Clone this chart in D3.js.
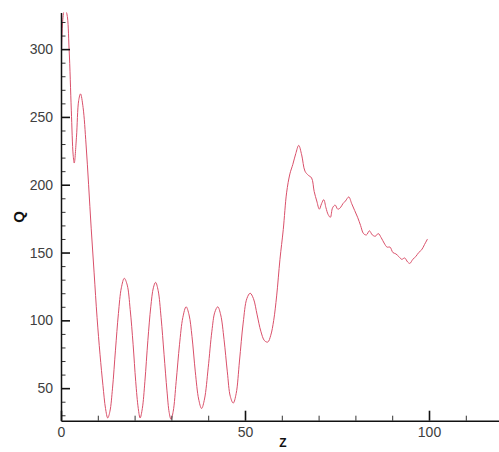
<!DOCTYPE html>
<html>
<head>
<meta charset="utf-8">
<script src="https://cdn.jsdelivr.net/npm/d3@7/dist/d3.min.js"></script>
<style>
  html, body { margin: 0; padding: 0; background: #fff; }
  svg { display: block; }
  .tick text { font-family: "Liberation Sans", Arial, sans-serif; font-size: 14px; fill: #404040; }
</style>
</head>
<body>
<svg id="chart" width="499" height="452"></svg>
<script>
// Z positions along the profile
const zValues = [
  0, 0.5, 1, 1.6, 2.2, 2.8, 3.3, 3.6, 4.2, 4.8, 5.3, 6, 6.8, 7.5, 8.2, 9, 9.8, 10.6, 11.4, 12.1,
  12.7, 13.3, 14, 14.8, 15.6, 16.4, 17.2, 18, 18.8, 19.6, 20.3, 21, 21.5, 22.1, 22.8, 23.6, 24.4,
  25.1, 25.7, 26.4, 27.2, 28, 28.8, 29.4, 29.9, 30.5, 31.3, 32.2, 33.1, 34, 34.8, 35.6, 36.5, 37.4,
  38.2, 39, 40, 41, 41.8, 42.6, 43.4, 44.3, 45.2, 46, 46.8, 47.6, 48.5, 49.5, 50.5, 51.4, 52.3,
  53.3, 54.3, 55.3, 56.2, 57, 57.8, 58.6, 59.5, 60.4, 61.3, 62.2, 63, 63.8, 64.6, 65.4, 66.3, 67.2,
  68.1, 68.8, 69.5, 70.2, 70.8, 71.4, 72, 72.6, 73.2, 73.8, 74.5, 75.2, 75.9, 76.6, 77.3, 78.2,
  79, 79.8, 80.6, 81.4, 82.2, 83, 83.8, 84.6, 85.4, 86.2, 87, 87.8, 88.6, 89.4, 90.2, 91, 91.8,
  92.6, 93.4, 94.2, 94.8, 95.6, 96.4, 97.2, 98, 98.8, 99.6
];

// Q measured at each Z
const qValues = [
  280, 322, 330, 326, 300, 255, 222, 216, 235, 262, 267, 257, 230, 200, 168, 135, 102, 75, 52, 35,
  28, 33, 50, 78, 105, 124, 131, 126, 108, 82, 55, 35, 28, 35, 55, 85, 110,
  124, 128, 122, 102, 75, 48, 32, 27, 33, 55, 82, 102, 110, 104, 88, 62, 42,
  35, 42, 65, 92, 106, 110, 104, 86, 62, 44, 39, 46, 70, 98, 116, 120, 116,
  104, 92, 85, 84, 89, 100, 118, 145, 167, 194, 208, 215, 223, 229, 222, 210, 207,
  205, 195, 188, 182, 186, 189, 183, 178, 176, 183, 185, 182, 183, 186, 188, 191,
  186, 181, 176, 170, 164, 163, 166, 163, 162, 164, 161, 157, 154, 154, 150, 149, 147,
  145, 146, 143, 142, 145, 147, 150, 152, 156, 160
];

// Axis ticks
const xMajorTicks = [0, 50, 100];
const xMinorTicks = [10, 20, 30, 40, 60, 70, 80, 90, 110];
const yMajorTicks = [50, 100, 150, 200, 250, 300];
const yMinorTicks = [30, 40, 60, 70, 80, 90, 110, 120, 130, 140, 160, 170, 180, 190,
                     210, 220, 230, 240, 260, 270, 280, 290, 310, 320];

const xLabel = "Z";
const yLabel = "Q";

const svg = d3.select("#chart");

const x = d3.scaleLinear().domain([0, 120]).range([61, 502.6]);
const y = d3.scaleLinear().domain([26, 327]).range([420.7, 12.5]);

// Plot-area clip so the curve is cut at the axes
svg.append("defs").append("clipPath").attr("id", "plotClip")
  .append("rect")
  .attr("x", x(0)).attr("y", y(327))
  .attr("width", 499 - x(0)).attr("height", y(26) - y(327));

const points = zValues.map((z, i) => [z, qValues[i]]);

const line = d3.line()
  .x(d => x(d[0]))
  .y(d => y(d[1]))
  .curve(d3.curveCatmullRom.alpha(0.5));

svg.append("path")
  .datum(points)
  .attr("clip-path", "url(#plotClip)")
  .attr("fill", "none")
  .attr("stroke", "#d9506a")
  .attr("stroke-width", 1)
  .attr("d", line);

// Minor ticks (inward, no labels)
svg.append("g")
  .attr("transform", `translate(0,${y(26)})`)
  .call(d3.axisBottom(x).tickValues(xMinorTicks).tickSize(-5).tickFormat(""))
  .call(g => g.select(".domain").remove())
  .call(g => g.selectAll("line").attr("stroke", "#333"));

svg.append("g")
  .attr("transform", `translate(${x(0)},0)`)
  .call(d3.axisLeft(y).tickValues(yMinorTicks).tickSize(-4.5).tickFormat(""))
  .call(g => g.select(".domain").remove())
  .call(g => g.selectAll("line").attr("stroke", "#333"));

// Major axes
svg.append("g")
  .attr("transform", `translate(0,${y(26)})`)
  .call(d3.axisBottom(x).tickValues(xMajorTicks).tickSize(-10).tickSizeOuter(0).tickPadding(6).tickFormat(d3.format("d")))
  .call(g => g.select(".domain").attr("stroke", "#111").attr("stroke-width", 1.5))
  .call(g => g.selectAll("line").attr("stroke", "#111").attr("stroke-width", 1.6));

svg.append("g")
  .attr("transform", `translate(${x(0)},0)`)
  .call(d3.axisLeft(y).tickValues(yMajorTicks).tickSize(-9).tickSizeOuter(0).tickPadding(8).tickFormat(d3.format("d")))
  .call(g => g.select(".domain").attr("stroke", "#111").attr("stroke-width", 1.5))
  .call(g => g.selectAll("line").attr("stroke", "#111").attr("stroke-width", 1.6));

// Axis titles
svg.append("text")
  .attr("x", 283).attr("y", 447)
  .attr("text-anchor", "middle")
  .attr("font-family", "Liberation Sans, Arial, sans-serif")
  .attr("font-weight", "bold")
  .attr("font-size", 12)
  .attr("fill", "#111")
  .text(xLabel);

svg.append("text")
  .attr("transform", "translate(24,217) rotate(-90)")
  .attr("text-anchor", "middle")
  .attr("font-family", "Liberation Sans, Arial, sans-serif")
  .attr("font-weight", "bold")
  .attr("font-size", 15)
  .attr("fill", "#111")
  .text(yLabel);
</script>
</body>
</html>
